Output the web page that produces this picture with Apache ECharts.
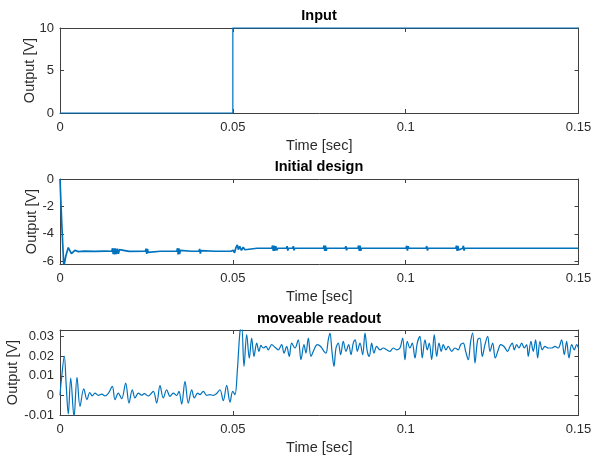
<!DOCTYPE html>
<html>
<head>
<meta charset="utf-8">
<script src="https://cdn.jsdelivr.net/npm/echarts@6/dist/echarts.min.js"></script>
<style>
  html, body { margin: 0; padding: 0; background: #fff; }
  #chart { width: 593px; height: 459px; }
</style>
</head>
<body>
<div id="chart"></div>
<script>
// ---- data (time in milliseconds, output in volts) ----
const inputTimeMs = [0, 50, 50, 150];
const inputVolts  = [0, 0, 10, 10];

const designTimeMs = [
  0, 0.5, 1.1, 1.7, 2.4, 3.3, 4.3, 5.3, 7, 10, 13,
  15.0, 15.2, 15.4, 15.6, 15.8, 16.0, 16.3, 16.6, 16.9, 17.2, 17.5, 20,
  24.7, 24.9, 25.1, 25.3, 25.5, 29,
  33.8, 34.0, 34.2, 34.4, 34.6, 34.8, 38,
  40.2, 40.4, 40.6, 40.8, 45, 49.5,
  50.1, 50.5, 50.9, 51.3, 51.6, 52.0, 52.5, 53.0, 53.5, 54, 57,
  61.3, 61.5, 61.7, 61.9, 62.1, 62.4, 62.7, 63.0,
  65.5, 65.7, 65.9, 66.1, 67.3, 67.5, 67.7, 67.9,
  70.2, 70.4, 70.6, 70.8, 73.6, 73.8, 74.0, 74.2,
  76.2, 76.4, 76.6, 76.8, 77.0, 77.2, 79.3, 79.5, 79.7, 79.9,
  82.5, 82.7, 82.9, 83.1, 86.2, 86.4, 86.6, 86.8, 87.0, 87.2,
  89.5, 89.7, 89.9, 90.1, 93.3, 93.5, 93.7, 93.9,
  100.1, 100.3, 100.5, 100.7, 100.9, 105.9, 106.1, 106.3, 106.5,
  114.5, 114.7, 114.9, 115.1, 115.3, 116.5, 116.7, 116.9, 117.1,
  120.3, 120.5, 120.7, 120.9, 123.7, 123.9, 124.1, 124.3,
  128.0, 128.2, 128.4, 128.6, 133.8, 134.0, 134.2, 134.4,
  135.8, 136.0, 136.2, 136.4, 137.7, 137.9, 138.1, 138.3,
  145.4, 145.6, 145.8, 146.0, 148.3, 148.5, 148.7, 148.9, 150
];
const designVolts = [
  0, -3.2, -6.4, -5.6, -5.0, -5.45, -5.2, -5.3, -5.26, -5.28, -5.26,
  -5.27, -5.05, -5.48, -5.05, -5.5, -5.06, -5.47, -5.08, -5.45, -5.15, -5.27, -5.28,
  -5.27, -5.08, -5.46, -5.1, -5.35, -5.27,
  -5.27, -5.05, -5.5, -5.06, -5.48, -5.2, -5.27,
  -5.27, -5.1, -5.44, -5.22, -5.27, -5.27,
  -5.2, -5.38, -5.0, -4.8, -5.15, -4.92, -5.2, -4.98, -5.16, -5.06, -5.05,
  -5.05, -4.85, -5.25, -4.86, -5.24, -4.9, -5.2, -5.05,
  -5.05, -4.9, -5.22, -5.05, -5.05, -4.9, -5.2, -5.05,
  -5.05, -4.92, -5.18, -5.05, -5.05, -4.92, -5.18, -5.05,
  -5.05, -4.85, -5.25, -4.86, -5.24, -5.05, -5.05, -4.92, -5.18, -5.05,
  -5.05, -4.9, -5.2, -5.05, -5.05, -4.85, -5.25, -4.86, -5.24, -5.05,
  -5.05, -4.92, -5.18, -5.05, -5.05, -4.92, -5.18, -5.05,
  -5.05, -4.87, -5.23, -4.9, -5.05, -5.05, -4.89, -5.21, -5.05,
  -5.05, -4.86, -5.24, -4.88, -5.18, -5.05, -4.87, -5.22, -5.05,
  -5.05, -4.92, -5.18, -5.05, -5.05, -4.92, -5.18, -5.05,
  -5.05, -4.92, -5.18, -5.05, -5.05, -4.92, -5.18, -5.05,
  -5.05, -4.92, -5.18, -5.05, -5.05, -4.92, -5.18, -5.05,
  -5.05, -4.92, -5.18, -5.05, -5.05, -4.92, -5.18, -5.05, -5.05
];

const readoutTimeMs = [
  0, 0.4, 1.24, 1.8, 2.40, 3.10, 4.05, 4.92, 5.79, 6.86, 7.81, 8.59, 9.34,
  10.12, 11.08, 12.06, 13.02, 13.97, 15.13, 15.91, 16.86, 17.85, 19.0, 19.96,
  20.91, 21.70, 22.65, 23.63, 24.39, 25.54, 26.99, 27.97, 28.93, 29.88,
  30.86, 31.82, 32.77, 33.76, 34.42, 35.20, 36.16, 37.11, 38.10, 38.85, 39.83,
  40.50, 41.45, 42.44, 43.39, 44.35, 45.33, 46.28, 47.24, 48.22, 49.18, 49.96,
  50.62, 51.29, 52.07, 52.56, 53.23, 54.01, 54.76, 55.45, 56.12, 56.90, 57.56,
  58.14, 58.81, 59.59, 60.25, 61.24, 62.19, 63.15, 64.13, 64.80, 65.58, 66.33,
  67.02, 67.98, 68.93, 69.71, 70.58, 71.16, 71.83, 72.61, 73.47, 74.43, 75.41,
  76.37, 76.95, 77.61, 78.10, 78.68, 79.26, 79.84, 80.50, 81.20, 81.95, 82.73,
  83.51, 84.18, 84.84, 85.42, 86.0, 86.78, 87.56, 88.23, 88.89, 89.47, 90.16,
  90.83, 91.61, 92.57, 93.52, 94.50, 95.46, 96.41, 97.40, 98.35, 99.13, 99.80,
  100.46, 101.24, 101.91, 102.69, 103.36, 104.14, 104.80, 105.58, 106.25, 106.83,
  107.52, 108.27, 108.97, 109.63, 110.30, 110.88, 111.66, 112.32, 113.31, 114.26,
  115.22, 115.91, 116.66, 117.36, 118.11, 118.80, 119.38, 120.05, 120.83, 121.49,
  122.16, 122.94, 123.72, 124.39, 125.17, 125.92, 126.79, 127.48, 128.44, 129.51,
  130.17, 130.84, 131.42, 132.11, 132.77, 133.56, 134.31, 135.0, 135.46, 136.24,
  136.91, 137.60, 138.18, 138.85, 139.51, 140.29, 141.25, 142.23, 143.19, 144.14,
  145.12, 145.88, 146.57, 147.24, 148.02, 148.77, 149.47, 150
];
const readoutVolts = [
  0, 0.008, 0.0199, 0.005, -0.0095, 0.0089, -0.011, 0.0092, -0.0056, 0.0034, -0.0022, 0.0015, -0.0002,
  0.0012, 0.0, 0.0007, -0.0003, 0.001, 0.0046, -0.0022, 0.0012, -0.0017, 0.0063, -0.0039,
  0.0029, -0.0013, 0.0012, 0.0001, 0.0009, -0.0003, 0.0021, -0.0039, 0.005, -0.0013,
  0.0029, -0.0005, 0.0012, 0.0, 0.0021, -0.0044, 0.0072, -0.0039, 0.0029, -0.0013, 0.0012,
  0.0004, 0.0021, 0.0, 0.0004, 0.0, 0.001, 0.0029, -0.0027, 0.0051, -0.0034, 0.0021,
  0.0004, 0.0123, 0.0327, 0.0352, 0.0148, 0.031, 0.019, 0.0293, 0.0199, 0.0267, 0.0225,
  0.0255, 0.0242, 0.025, 0.0233, 0.0259, 0.0246, 0.0233, 0.0259, 0.0216, 0.025, 0.0199,
  0.0267, 0.0242, 0.0284, 0.0182, 0.0259, 0.0216, 0.0293, 0.0199, 0.0233, 0.0259, 0.025,
  0.0225, 0.0216, 0.0284, 0.0318, 0.0225, 0.0148, 0.0242, 0.0267, 0.0208, 0.0276, 0.0225,
  0.0259, 0.0208, 0.0267, 0.0284, 0.0225, 0.0267, 0.0208, 0.0318, 0.0225, 0.0199, 0.0267,
  0.0216, 0.025, 0.0233, 0.0242, 0.0233, 0.0225, 0.0242, 0.0233, 0.0242, 0.0293, 0.0182,
  0.0276, 0.0242, 0.0267, 0.0191, 0.0267, 0.0301, 0.0191, 0.0284, 0.0233, 0.0267,
  0.0182, 0.031, 0.0199, 0.0267, 0.0225, 0.0259, 0.0233, 0.025, 0.0225, 0.0242,
  0.0233, 0.0259, 0.0267, 0.0225, 0.0182, 0.0276, 0.0318, 0.0165, 0.0284, 0.0293,
  0.0199, 0.0259, 0.0301, 0.0225, 0.0267, 0.0191, 0.0233, 0.0259, 0.025, 0.0225,
  0.025, 0.0267, 0.0233, 0.0259, 0.0242, 0.0267, 0.0242, 0.0259, 0.0199, 0.0276,
  0.0225, 0.0284, 0.0191, 0.0276, 0.0233, 0.025, 0.0242, 0.0242, 0.025, 0.0242,
  0.0284, 0.0208, 0.0276, 0.0191, 0.0259, 0.0233, 0.0259, 0.0242
];

// ---- axis ticks ----
const timeTicks = [0, 0.05, 0.1, 0.15];
const inputTicks = [0, 5, 10];
const designTicks = [-6, -4, -2, 0];
const readoutTicks = [-0.01, 0, 0.01, 0.02, 0.03];

const titles = ['Input', 'Initial design', 'moveable readout'];
const xName = 'Time [sec]';
const yName = 'Output [V]';

// ---- styling ----
const FONT = '"Liberation Sans", Arial, Helvetica, sans-serif';
const AXIS_COLOR = '#404040';
const TEXT_COLOR = '#2b2b2b';
const LINE_COLOR = '#0072BD';

const grids = [
  { left: 60, right: 14.5, top: 28, height: 85, outerBoundsMode: 'none', containLabel: false },
  { left: 60, right: 14.5, top: 179, height: 85, outerBoundsMode: 'none', containLabel: false },
  { left: 60, right: 14.5, top: 330, height: 85, outerBoundsMode: 'none', containLabel: false }
];
const yRanges = [
  { min: 0, max: 10, ticks: inputTicks, nameGap: 23 },
  { min: -6.2, max: 0, ticks: designTicks, nameGap: 21 },
  { min: -0.01, max: 0.0334, ticks: readoutTicks, nameGap: 40 }
];

const toSeconds = ms => ms / 1000;
const pairs = (t, v) => t.map((x, i) => [toSeconds(x), v[i]]);

const xAxes = [];
const yAxes = [];
grids.forEach((g, i) => {
  const common = {
    type: 'value', gridIndex: i, min: 0, max: 0.15,
    splitLine: { show: false },
    axisLine: { show: true, onZero: false, lineStyle: { color: AXIS_COLOR, width: 1 } },
    axisTick: { show: true, inside: true, length: 4, customValues: timeTicks, lineStyle: { color: AXIS_COLOR } }
  };
  xAxes.push(Object.assign({}, common, {
    position: 'bottom',
    axisLabel: { show: true, customValues: timeTicks, color: TEXT_COLOR, fontSize: 13, fontFamily: FONT, margin: 8 },
    name: xName, nameLocation: 'middle', nameGap: 25, nameMoveOverlap: false,
    nameTextStyle: { color: TEXT_COLOR, fontSize: 14.5, fontFamily: FONT }
  }));
  xAxes.push(Object.assign({}, common, {
    position: 'top',
    axisLabel: { show: false }
  }));

  const r = yRanges[i];
  const ycommon = {
    type: 'value', gridIndex: i, min: r.min, max: r.max,
    splitLine: { show: false },
    axisLine: { show: true, onZero: false, lineStyle: { color: AXIS_COLOR, width: 1 } },
    axisTick: { show: true, inside: true, length: 4, customValues: r.ticks, lineStyle: { color: AXIS_COLOR } }
  };
  yAxes.push(Object.assign({}, ycommon, {
    position: 'left',
    axisLabel: { show: true, customValues: r.ticks, color: TEXT_COLOR, fontSize: 13, fontFamily: FONT, margin: 6 },
    name: yName, nameLocation: 'middle', nameGap: r.nameGap, nameRotate: 90, nameMoveOverlap: false,
    nameTextStyle: { color: TEXT_COLOR, fontSize: 14.5, fontFamily: FONT }
  }));
  yAxes.push(Object.assign({}, ycommon, {
    position: 'right',
    axisLabel: { show: false }
  }));
});

const titleTops = [8, 159, 311];
const option = {
  animation: false,
  backgroundColor: '#ffffff',
  title: titles.map((t, i) => ({
    text: t, left: 319, top: titleTops[i], textAlign: 'center', padding: 0,
    textStyle: { fontSize: 14.5, fontWeight: 'bold', color: '#000', fontFamily: FONT }
  })),
  grid: grids,
  xAxis: xAxes,
  yAxis: yAxes,
  series: [
    {
      type: 'line', xAxisIndex: 0, yAxisIndex: 0, data: pairs(inputTimeMs, inputVolts),
      showSymbol: false, clip: false,
      lineStyle: { color: LINE_COLOR, width: 1.2, join: 'miter', cap: 'butt' }
    },
    {
      type: 'line', xAxisIndex: 2, yAxisIndex: 2, data: pairs(designTimeMs, designVolts),
      showSymbol: false, clip: true, lineStyle: { color: LINE_COLOR, width: 1.7 }
    },
    {
      type: 'line', xAxisIndex: 4, yAxisIndex: 4, data: pairs(readoutTimeMs, readoutVolts),
      showSymbol: false, clip: true, smooth: 0.35, lineStyle: { color: LINE_COLOR, width: 1.2 }
    }
  ]
};

const chart = echarts.init(document.getElementById('chart'), null, { renderer: 'canvas' });
chart.setOption(option);
</script>
</body>
</html>
